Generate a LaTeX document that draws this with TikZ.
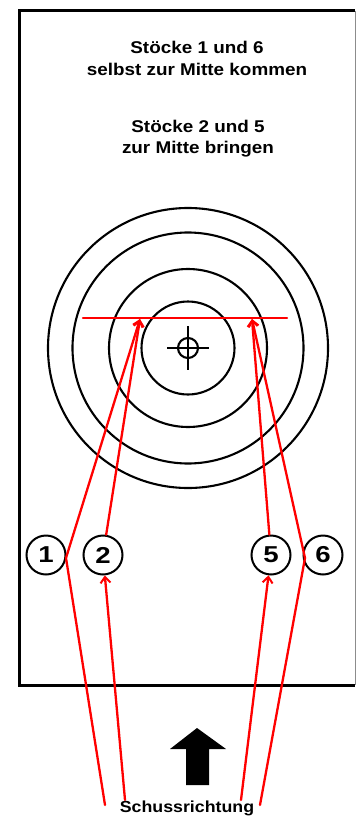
\documentclass[tikz,border=0pt]{standalone}
\usepackage{fontspec}
\setmainfont{Liberation Sans}
\usetikzlibrary{arrows.meta}
\tikzset{
  redline/.style={draw=red, line width=2.3pt, line cap=round},
  redarrow/.style={redline, -{Straight Barb[length=6pt,width=10pt,line width=2pt]}},
  ring/.style={draw=black, line width=2.1pt},
  numcircle/.style={circle, draw=black, line width=2pt, minimum size=39pt, inner sep=0pt,
     font=\fontsize{23}{23}\selectfont\bfseries},
  title/.style={anchor=base, inner sep=0pt, font=\fontsize{17}{17}\selectfont\bfseries}
}
\begin{document}
\begin{tikzpicture}[x=1pt,y=-1pt]
\useasboundingbox (0,0) rectangle (357,816);
\fill[white] (0,0) rectangle (357,816);
% frame
\draw[line width=3pt, black] (355,11) -- (19,11) -- (19,685) -- (355,685);
\draw[line width=1pt, black!45] (355,11) -- (355,685);
% titles
\node[title] (t1) at (197,54) {\scalebox{1.11}[1]{Stöcke 1 und 6}};
\node[title] (t2) at (197,75.5) {\scalebox{1.11}[1]{selbst zur Mitte kommen}};
\node[title] (t3) at (198,132.5) {\scalebox{1.11}[1]{Stöcke 2 und 5}};
\node[title] (t4) at (198,153) {\scalebox{1.11}[1]{zur Mitte bringen}};
% target
\coordinate (ctr) at (188,348);
\draw[ring] (ctr) circle[radius=140];
\draw[ring] (ctr) circle[radius=115.5];
\draw[ring] (ctr) circle[radius=79];
\draw[ring] (ctr) circle[radius=46.5];
\draw[ring] (ctr) circle[radius=10];
\draw[ring] (167,348) -- (209,348);
\draw[ring] (188,326) -- (188,370);
% red horizontal line
\coordinate (hL) at (83,318);
\coordinate (hR) at (287,318);
\draw[redline] (hL) -- (hR);
% numbered sticks
\node[numcircle] (c1) at (46,555) {\scalebox{1.2}[1]{1}};
\node[numcircle] (c2) at (103,555) {\scalebox{1.2}[1]{2}};
\node[numcircle] (c5) at (271,555) {\scalebox{1.2}[1]{5}};
\node[numcircle] (c6) at (323,555) {\scalebox{1.2}[1]{6}};
% red paths
\coordinate (tL) at (140,319);
\coordinate (tR) at (252,319);
\coordinate (b1) at (105,805);
\coordinate (b2) at (125,800);
\coordinate (b5) at (241,800);
\coordinate (b6) at (260,805);
\coordinate (k1) at (66,558);
\coordinate (k6) at (305,558);
\draw[redarrow] (b1) -- (k1) -- (tL);
\draw[redarrow] (b2) -- (c2);
\draw[redarrow] (c2) -- (tL);
\draw[redarrow] (b5) -- (c5);
\draw[redarrow] (c5) -- (tR);
\draw[redarrow] (b6) -- (k6) -- (tR);
% shooting direction arrow
\fill[black] (197,728) -- (226,749) -- (209,749) -- (209,785) -- (186,785) -- (186,749) -- (170,749) -- cycle;
\node[anchor=base, inner sep=0pt, font=\fontsize{16}{16}\selectfont\bfseries] (sr) at (187,812) {\scalebox{1.11}[1]{Schussrichtung}};
\end{tikzpicture}
\end{document}
